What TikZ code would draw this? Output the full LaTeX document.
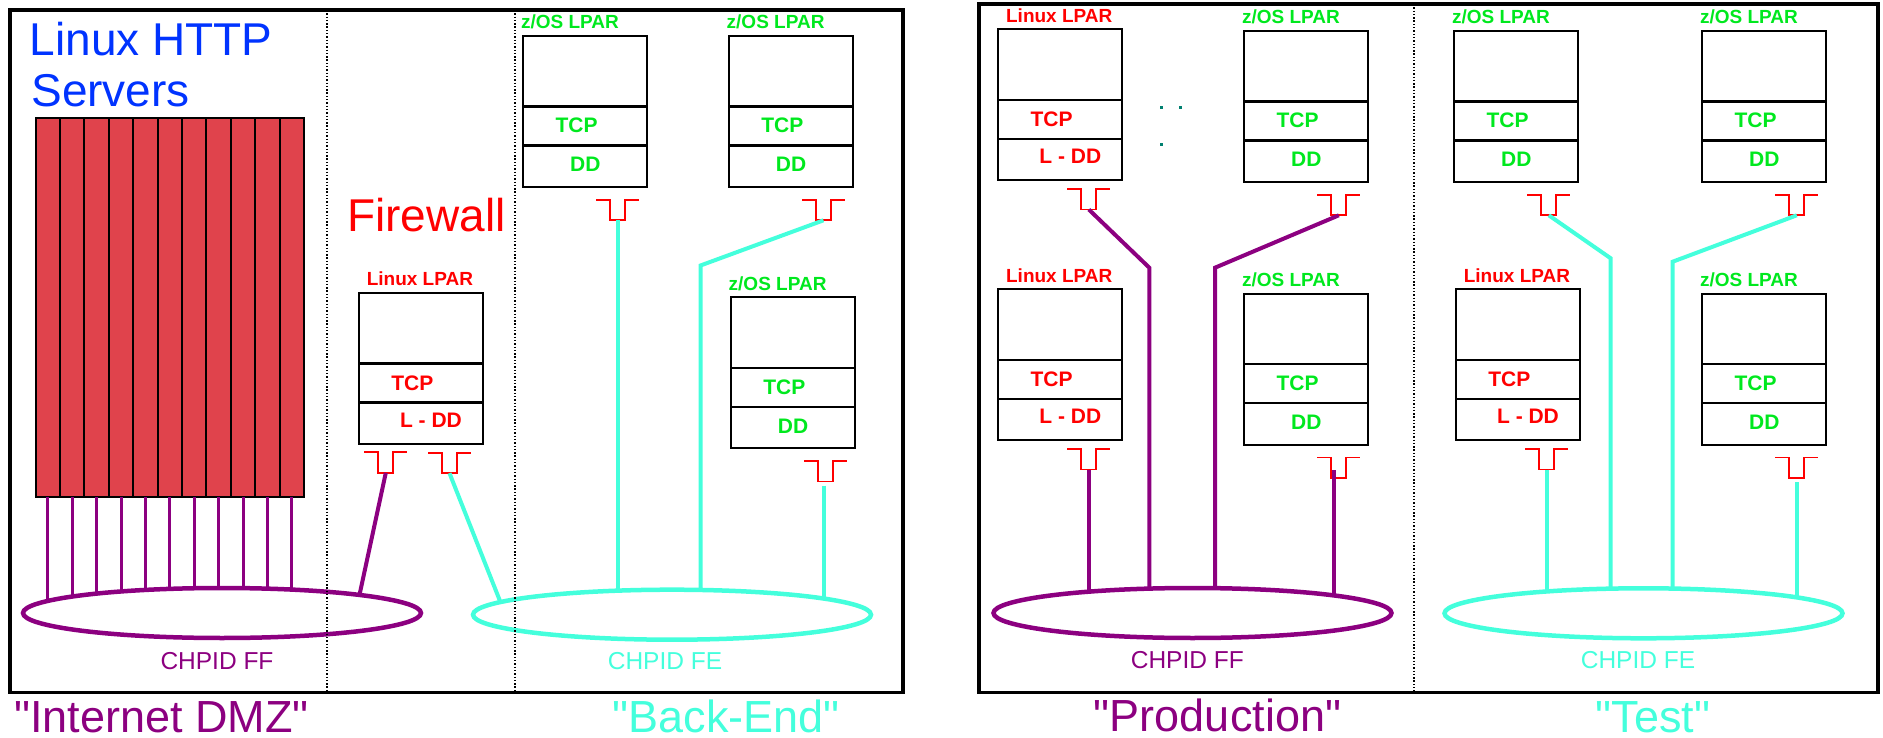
\documentclass[tikz,border=0pt]{standalone}
\usepackage{fontspec}
\setmainfont{Liberation Sans}[Ligatures=TeXOff]
\usetikzlibrary{shapes.geometric}

\definecolor{netpurple}{RGB}{140,0,128}
\definecolor{netcyan}{RGB}{68,255,220}
\definecolor{zosgreen}{RGB}{0,232,30}
\definecolor{httpblue}{RGB}{0,51,255}
\definecolor{bladered}{RGB}{224,67,76}
\definecolor{dotteal}{RGB}{0,128,112}

\newcommand{\setpx}[1]{\fontsize{#1pt}{#1pt}\selectfont}

\tikzset{
  outerframe/.style={draw=black, line width=3.5pt},
  divline/.style={draw=black, line width=1.4pt, dash pattern=on 1.4pt off 1.9pt},
  blade/.style={draw=black, line width=2pt, fill=bladered, minimum width=24.4pt,
    minimum height=379pt, inner sep=0pt, outer sep=0pt, anchor=north west},
  lparbox/.style={draw=black, line width=2.3pt, minimum width=124pt, minimum height=151pt,
    inner sep=0pt, outer sep=0pt, anchor=north west},
  layer/.style={draw=black, line width=2.3pt},
  nicline/.style={draw=red, line width=1.7pt},
  lpartag/.style={inner sep=0pt, anchor=base west, font=\setpx{19}\bfseries},
  layertext/.style={inner sep=0pt, anchor=base, font=\setpx{21}\bfseries},
  bigtitle/.style={inner sep=0pt, anchor=base west, font=\setpx{46}},
  zonetext/.style={inner sep=0pt, anchor=base, font=\setpx{45}},
  chpidtext/.style={inner sep=0pt, anchor=base, font=\setpx{24.5}},
  ringnet/.style={ellipse, line width=4.5pt, fill=white, minimum width=398pt,
    minimum height=50pt, inner sep=0pt, outer sep=0pt},
  purplelink/.style={draw=netpurple, line width=4pt},
  cyanlink/.style={draw=netcyan, line width=4pt},
  bladelink/.style={draw=netpurple, line width=3pt},
  % network adapter symbol, port at the bottom of the notch
  pics/nic/.style={code={
    \draw[nicline] (0,0) -- (14,0) -- (14,20.5) -- (29,20.5) -- (29,0) -- (43,0);
    \coordinate (-port) at (21.5,20.5);
  }},
  % z/OS partition: box with TCP and DD layers and its adapter
  pics/zoslpar/.style={code={
    \node[lparbox] (-box) at (0,0) {};
    \draw[layer] (0,70.5) -- (124,70.5) (0,109.5) -- (124,109.5);
    \node[lpartag, text=zosgreen] (-name) at (-2.5,-7) {z/OS LPAR};
    \node[layertext, text=zosgreen] (-tcp) at (53.3,97) {TCP};
    \node[layertext, text=zosgreen] (-dd) at (62,136) {DD};
    \draw[nicline] (73,163.8) -- ++(14,0) -- ++(0,20.5) -- ++(15,0) -- ++(0,-20.5) -- ++(14,0);
    \coordinate (-port) at (94.5,184.3);
  }},
  % Linux partition: box with TCP and L-DD layers and its adapter
  pics/linuxlpar/.style={code={
    \node[lparbox] (-box) at (0,0) {};
    \draw[layer] (0,70.5) -- (124,70.5) (0,109.5) -- (124,109.5);
    \node[lpartag, text=red] (-name) at (7.6,-7) {Linux LPAR};
    \node[layertext, text=red] (-tcp) at (53.3,97) {TCP};
    \node[layertext, text=red] (-dd) at (72,134.5) {L - DD};
    \draw[nicline] (69,159.7) -- ++(14,0) -- ++(0,20.5) -- ++(15,0) -- ++(0,-20.5) -- ++(14,0);
    \coordinate (-port) at (90.5,180.2);
  }},
}

\begin{document}
\begin{tikzpicture}[x=1pt,y=-1pt]
\useasboundingbox (0,0) rectangle (1883,738);

% ---------- outer frames ----------
\draw[outerframe] (10,10) rectangle (903,692.5);
\draw[outerframe] (979,4) rectangle (1878,692.5);

% ---------- ring centres ----------
\coordinate (ffAc) at (222,613);
\coordinate (feAc) at (672,614.7);
\coordinate (ffBc) at (1192.5,613);
\coordinate (feBc) at (1643.5,613.3);

% ---------- left system: Internet DMZ and back-end ----------
\node[bigtitle, text=httpblue] (httpA) at (29.6,56) {Linux HTTP};
\node[bigtitle, text=httpblue] (httpB) at (31.2,107) {Servers};
\node[bigtitle, text=red] (fwtitle) at (347,232) {Firewall};

\foreach \i in {1,...,11}
  \node[blade] (b\i) at ({35.7+(\i-1)*24.39},118) {};

\pic (fw) at (359,293) {linuxlpar};
\pic (fwN) at (364.3,452.3) {nic};
\pic (zA1) at (523.3,36) {zoslpar};
\pic (zA2) at (729,36) {zoslpar};
\pic (zA3) at (731,297.3) {zoslpar};

% links of the left system
\foreach \i in {1,...,11}
  \draw[bladelink] (b\i.south) -- (b\i.south |- ffAc);
\coordinate (fwffEnd) at (355.6,613);
\draw[purplelink] (fwN-port) -- (fwffEnd);
\coordinate (fwfeEnd) at (505.4,614.7);
\draw[cyanlink] (fw-port) -- (fwfeEnd);
\draw[cyanlink] (zA1-port) -- (zA1-port |- feAc);
\coordinate (bendA2) at (700.5,265.5);
\draw[cyanlink] (zA2-port) -- (bendA2) -- (bendA2 |- feAc);
\coordinate (zA3-drop) at ([xshift=-2pt,yshift=-4pt]zA3-port);
\draw[cyanlink] (zA3-drop) -- (zA3-drop |- feAc);

% ---------- right system: production and test ----------
\pic (lP1) at (998.3,29.3) {linuxlpar};
\pic (zP1) at (1244.3,31) {zoslpar};
\pic (lP2) at (998.3,289.3) {linuxlpar};
\pic (zP2) at (1244.3,293.7) {zoslpar};
\pic (zT1) at (1454.3,31) {zoslpar};
\pic (zT2) at (1702.3,31) {zoslpar};
\pic (lT1) at (1456,289.3) {linuxlpar};
\pic (zT3) at (1702.3,293.7) {zoslpar};

\foreach \n/\px/\py in {dotA/1161.7/107.3, dotB/1180.7/107.3, dotC/1161.7/145}
  \node[fill=dotteal, minimum size=3pt, inner sep=0pt] (\n) at (\px,\py) {};

% links of the production rings
\coordinate (bendP1) at (1149.3,267.7);
\draw[purplelink] (lP1-port) -- (bendP1) -- (bendP1 |- ffBc);
\coordinate (bendP2) at (1215,267.7);
\draw[purplelink] (zP1-port) -- (bendP2) -- (bendP2 |- ffBc);
\draw[purplelink] (lP2-port) -- (lP2-port |- ffBc);
\coordinate (zP2-drop) at ([xshift=-4.8pt,yshift=8pt]zP2-port);
\draw[purplelink] (zP2-drop) -- (zP2-drop |- ffBc);

% links of the test rings
\coordinate (bendT1) at (1610.7,258.3);
\draw[cyanlink] (zT1-port) -- (bendT1) -- (bendT1 |- feBc);
\coordinate (bendT2) at (1672.7,261.7);
\draw[cyanlink] (zT2-port) -- (bendT2) -- (bendT2 |- feBc);
\draw[cyanlink] (lT1-port) -- (lT1-port |- feBc);
\coordinate (zT3-drop) at ([yshift=-4pt]zT3-port);
\draw[cyanlink] (zT3-drop) -- (zT3-drop |- feBc);

% ---------- channel rings ----------
\node[ringnet, draw=netpurple] (ffA) at (ffAc) {};
\node[ringnet, draw=netcyan] (feA) at (feAc) {};
\node[ringnet, draw=netpurple] (ffB) at (ffBc) {};
\node[ringnet, draw=netcyan] (feB) at (feBc) {};

\node[chpidtext, text=netpurple] (ffAlbl) at (217,669.3) {CHPID FF};
\node[chpidtext, text=netcyan] (feAlbl) at (665,669.3) {CHPID FE};
\node[chpidtext, text=netpurple] (ffBlbl) at (1187.3,668.5) {CHPID FF};
\node[chpidtext, text=netcyan] (feBlbl) at (1638,668.5) {CHPID FE};

% ---------- zone separators ----------
\draw[divline] (327,10) -- (327,692.5);
\draw[divline] (515,10) -- (515,692.5);
\draw[divline] (1414,4) -- (1414,692.5);

% ---------- zone names ----------
\node[zonetext, text=netpurple] (dmz) at (161.7,732) {"Internet DMZ"};
\node[zonetext, text=netcyan] (backend) at (726.3,732) {"Back-End"};
\node[zonetext, text=netpurple] (prod) at (1217.5,731.7) {"Production"};
\node[zonetext, text=netcyan] (testzone) at (1653,732) {"Test"};
\end{tikzpicture}
\end{document}
